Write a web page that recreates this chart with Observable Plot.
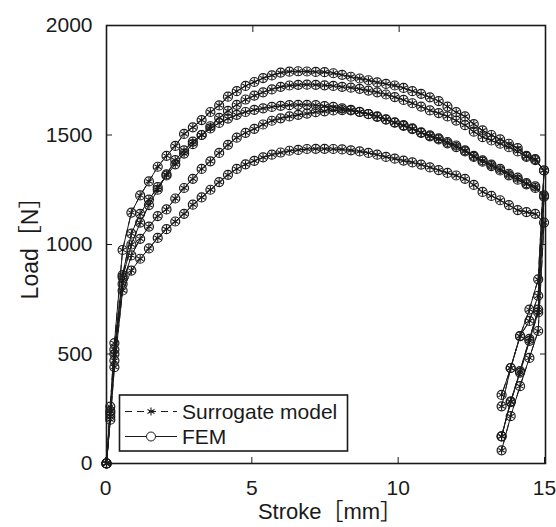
<!DOCTYPE html>
<html>
<head>
<meta charset="utf-8">
<script src="https://cdn.jsdelivr.net/npm/d3@7"></script>
<script src="https://cdn.jsdelivr.net/npm/@observablehq/plot@0.6"></script>
<style>
  html, body { margin: 0; padding: 0; background: #fff; }
  #chart { width: 556px; height: 527px; overflow: hidden; }
</style>
</head>
<body>
<div id="chart"></div>
<script>
// ---- data ----
const xTicks = [0, 5, 10, 15];
const yTicks = [0, 500, 1000, 1500, 2000];
const xLabel = "Stroke［mm］";
const yLabel = "Load［N］";
const legendLabels = ["Surrogate model", "FEM"];

const strokeLoading = [0, 0.13, 0.27, 0.55, 0.85, 1.15, 1.45, 1.75, 2.05, 2.35, 2.65, 2.95, 3.25, 3.55, 3.85, 4.15, 4.45, 4.75, 5.05, 5.35, 5.65, 5.95, 6.25, 6.55, 6.85, 7.15, 7.45, 7.75, 8.05, 8.35, 8.65, 8.95, 9.25, 9.55, 9.85, 10.15, 10.45, 10.75, 11.05, 11.35, 11.65, 11.95, 12.25, 12.55, 12.85, 13.15, 13.45, 13.75, 14.05, 14.35, 14.65, 14.95];
const strokeUnloading = [14.75, 14.45, 14.13, 13.81, 13.5];

const load1 = [0, 260, 550, 975, 1146, 1224, 1288, 1355, 1405, 1450, 1505, 1535, 1568, 1605, 1635, 1675, 1700, 1724, 1742, 1760, 1772, 1785, 1789, 1791, 1790, 1788, 1787, 1782, 1775, 1766, 1758, 1750, 1740, 1733, 1726, 1715, 1700, 1688, 1672, 1655, 1630, 1604, 1585, 1550, 1521, 1500, 1480, 1460, 1440, 1405, 1390, 1338];
const load2 = [0, 240, 520, 860, 1050, 1140, 1205, 1262, 1315, 1366, 1415, 1458, 1500, 1540, 1578, 1610, 1638, 1662, 1680, 1695, 1708, 1720, 1726, 1729, 1730, 1729, 1727, 1724, 1720, 1716, 1711, 1703, 1695, 1685, 1673, 1660, 1645, 1630, 1612, 1600, 1585, 1566, 1545, 1515, 1490, 1475, 1460, 1444, 1425, 1400, 1385, 1338];
const load3 = [0, 230, 500, 850, 1000, 1100, 1180, 1250, 1320, 1385, 1430, 1470, 1500, 1530, 1555, 1575, 1592, 1605, 1615, 1622, 1628, 1633, 1636, 1638, 1638, 1636, 1632, 1628, 1622, 1615, 1606, 1596, 1585, 1572, 1558, 1545, 1530, 1512, 1498, 1485, 1468, 1452, 1430, 1405, 1384, 1365, 1345, 1323, 1305, 1280, 1265, 1224];
const load4 = [0, 215, 470, 820, 950, 1026, 1082, 1130, 1160, 1210, 1258, 1300, 1345, 1380, 1418, 1455, 1488, 1510, 1528, 1548, 1565, 1576, 1585, 1592, 1598, 1604, 1608, 1612, 1614, 1612, 1605, 1595, 1583, 1570, 1556, 1542, 1527, 1510, 1494, 1480, 1462, 1445, 1425, 1400, 1378, 1358, 1338, 1316, 1296, 1275, 1258, 1218];
const load5 = [0, 200, 440, 790, 881, 935, 982, 1030, 1070, 1105, 1140, 1182, 1215, 1250, 1285, 1318, 1345, 1366, 1382, 1398, 1410, 1420, 1428, 1432, 1436, 1437, 1437, 1436, 1434, 1430, 1425, 1418, 1410, 1400, 1392, 1383, 1375, 1365, 1352, 1340, 1327, 1315, 1300, 1272, 1240, 1222, 1202, 1180, 1157, 1148, 1140, 1100];

const unload1 = [841, 703, 582, 436, 313];
const unload2 = [766, 651, 582, 436, 261];
const unload3 = [703, 569, 422, 284, 124];
const unload4 = [690, 560, 415, 280, 124];
const unload5 = [605, 482, 353, 216, 60];

// ---- build rows ----
const loadings = [load1, load2, load3, load4, load5];
const unloadings = [unload1, unload2, unload3, unload4, unload5];
const rows = [];
loadings.forEach((ld, c) => {
  strokeLoading.forEach((s, i) => rows.push({stroke: s, load: ld[i], curve: c}));
  strokeUnloading.forEach((s, i) => rows.push({stroke: s, load: unloadings[c][i], curve: c}));
});

const FONT = '"Liberation Sans", "Noto Sans CJK JP", Arial, sans-serif';
const INK = "#1a1a1a";
const fmt = d => String(d);

const svg = Plot.plot({
  width: 556,
  height: 527,
  marginLeft: 106,
  marginRight: 11,
  marginTop: 25,
  marginBottom: 64,
  style: {fontFamily: FONT, fontSize: "21px", color: INK, background: "#fff", overflow: "visible"},
  x: {domain: [0, 15]},
  y: {domain: [0, 2000]},
  marks: [
    Plot.axisX(xTicks, {anchor: "bottom", tickSize: -6, tickPadding: 23, dx: -1, tickFormat: fmt, label: null, stroke: INK, fill: INK, fontSize: 21}),
    Plot.axisX(xTicks, {anchor: "top", tickSize: -6, tickFormat: () => "", label: null, stroke: INK}),
    Plot.axisY(yTicks, {anchor: "left", tickSize: -6, tickPadding: 20, tickFormat: fmt, label: null, stroke: INK, fill: INK, fontSize: 21}),
    Plot.axisY(yTicks, {anchor: "right", tickSize: -6, tickFormat: () => "", label: null, stroke: INK}),
    Plot.line(rows, {x: "stroke", y: "load", z: "curve", stroke: INK, strokeWidth: 1}),
    Plot.line(rows, {x: "stroke", y: "load", z: "curve", stroke: INK, strokeWidth: 1, strokeDasharray: "7,5"}),
    Plot.dot(rows, {x: "stroke", y: "load", r: 4.5, stroke: INK, strokeWidth: 1.2, fill: "none"}),
    Plot.dot(rows, {x: "stroke", y: "load", symbol: "asterisk", r: 3.6, stroke: INK, strokeWidth: 1.1}),
    Plot.frame({stroke: INK, strokeWidth: 1.6}),
    Plot.text([xLabel], {frameAnchor: "bottom", dy: 55, dx: 4, textAnchor: "middle", fontSize: 22, fill: INK}),
    Plot.text([yLabel], {frameAnchor: "left", dx: -76, dy: -2, rotate: -90, textAnchor: "middle", fontSize: 23, fill: INK})
  ]
});

// ---- legend box (inside the plot area, lower left) ----
const g = d3.select(svg).append("g")
  .attr("font-family", FONT).attr("font-size", 21).attr("fill", INK).attr("text-anchor", "start");
g.append("rect").attr("x", 119.5).attr("y", 395).attr("width", 228).attr("height", 56)
  .attr("fill", "#fff").attr("stroke", INK).attr("stroke-width", 1.6);
const rowsY = [411.5, 436.5];
// surrogate row
g.append("line").attr("x1", 125).attr("x2", 177).attr("y1", rowsY[0]).attr("y2", rowsY[0])
  .attr("stroke", INK).attr("stroke-width", 1).attr("stroke-dasharray", "7,5");
g.append("path").attr("transform", `translate(151,${rowsY[0]})`)
  .attr("d", "M0,-4L0,4M-3.5,-2L3.5,2M-3.5,2L3.5,-2").attr("stroke", INK).attr("stroke-width", 1.1);
// FEM row
g.append("line").attr("x1", 125).attr("x2", 177).attr("y1", rowsY[1]).attr("y2", rowsY[1])
  .attr("stroke", INK).attr("stroke-width", 1);
g.append("circle").attr("cx", 151).attr("cy", rowsY[1]).attr("r", 4.5)
  .attr("fill", "#fff").attr("stroke", INK).attr("stroke-width", 1);
legendLabels.forEach((t, i) => {
  g.append("text").attr("x", 182).attr("y", rowsY[i]).attr("dy", "0.36em").attr("text-anchor", "start").text(t);
});

document.getElementById("chart").appendChild(svg);
</script>
</body>
</html>
